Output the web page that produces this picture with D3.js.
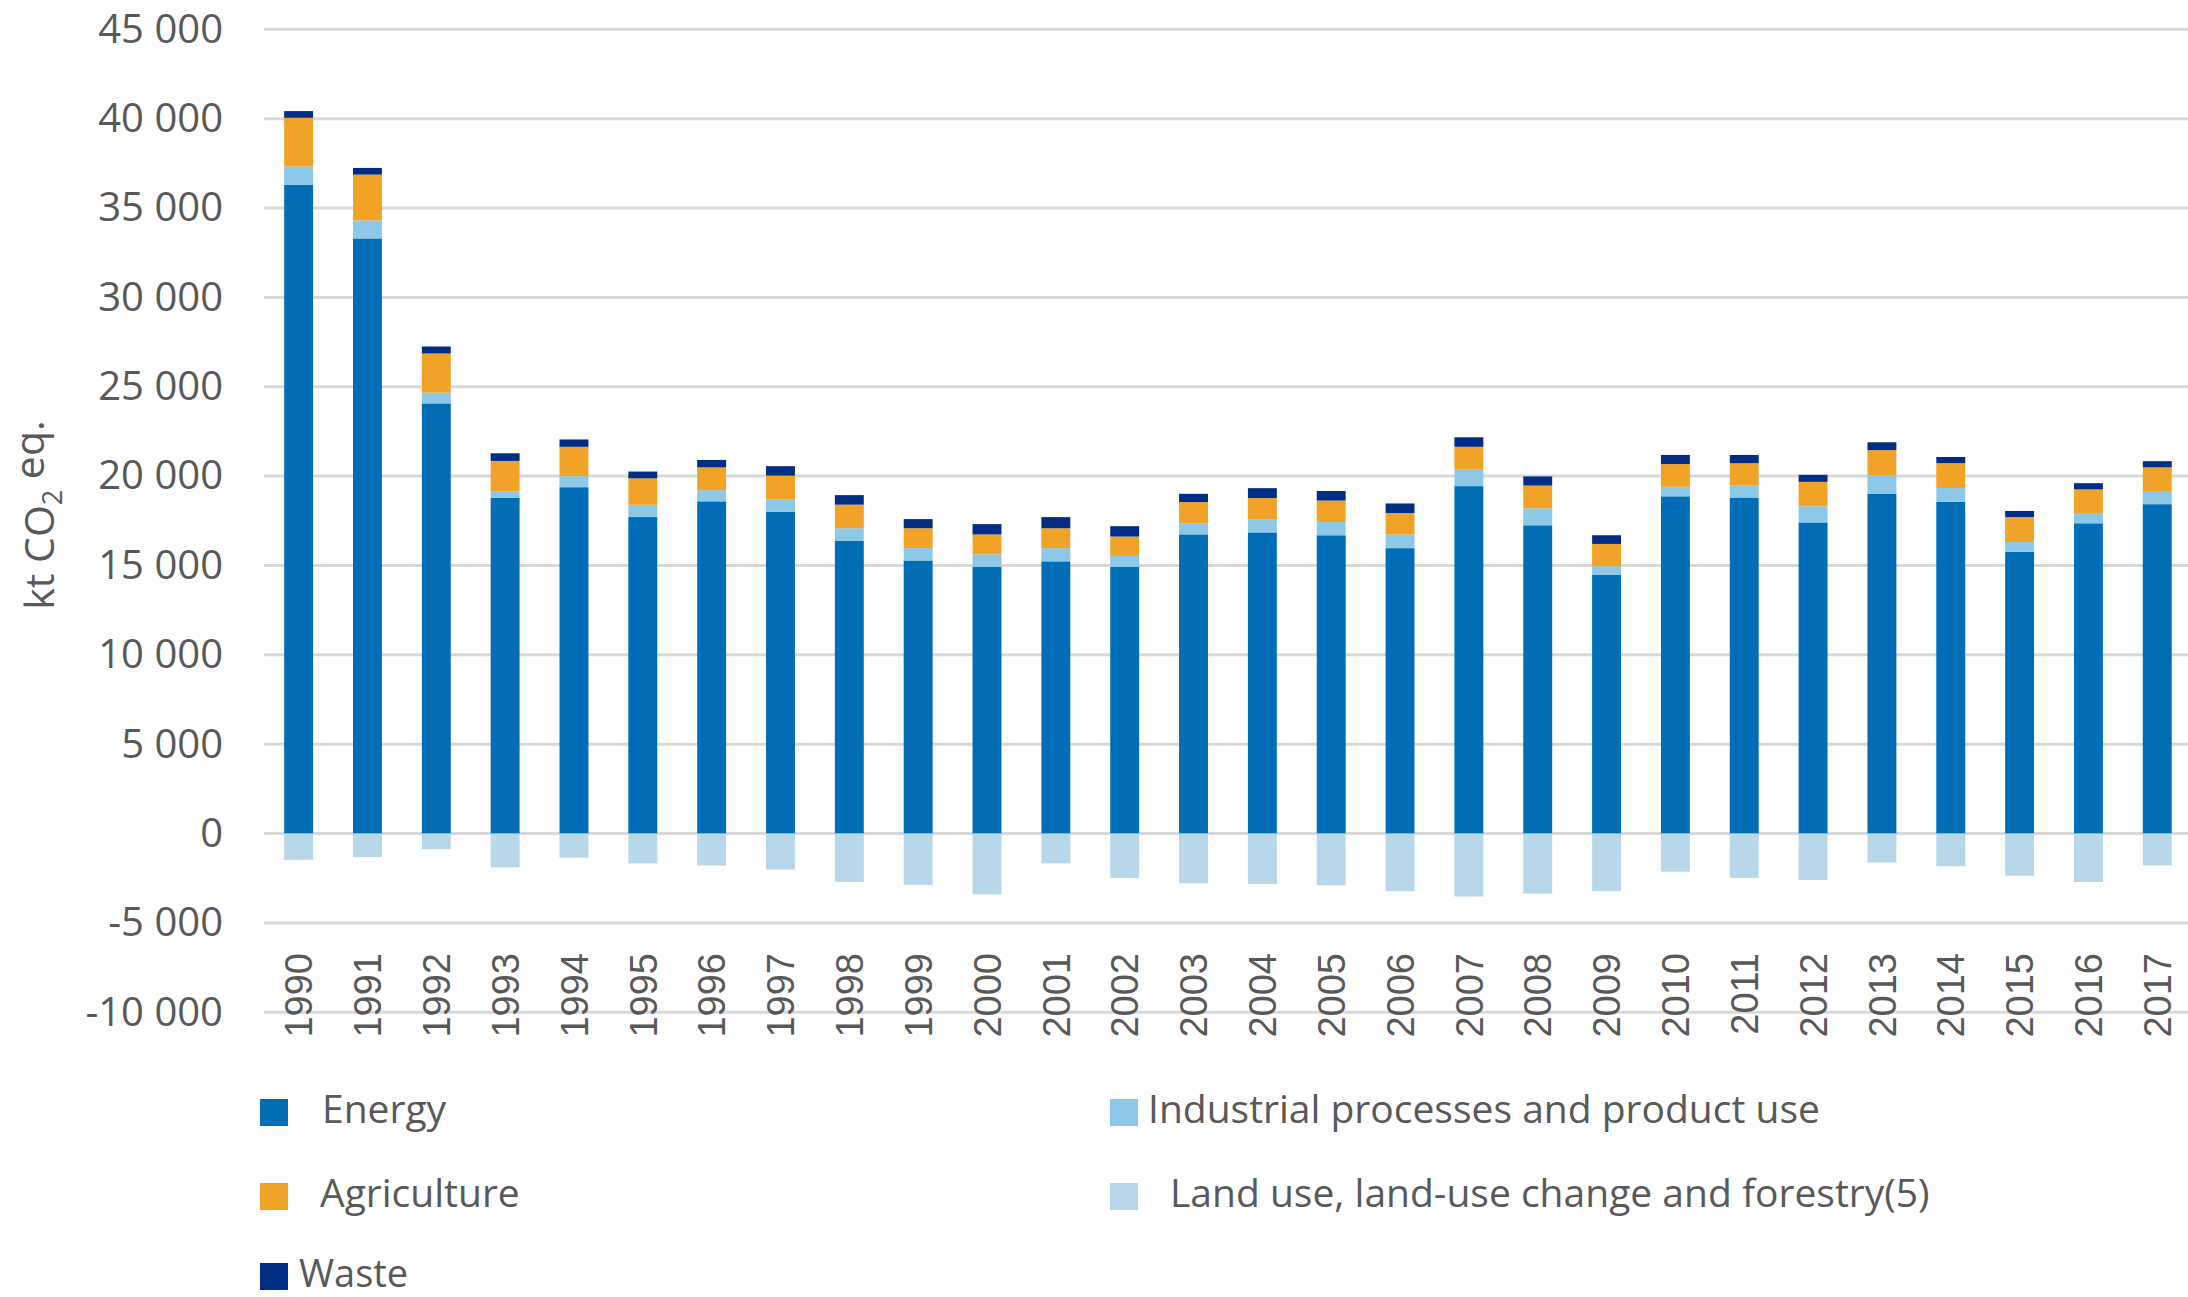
<!DOCTYPE html>
<html>
<head>
<meta charset="utf-8">
<script src="https://cdn.jsdelivr.net/npm/d3@7"></script>
<style>
  html, body { margin: 0; padding: 0; background: #ffffff; }
  svg { display: block; }
</style>
</head>
<body>
<svg id="chart" width="2188" height="1297"></svg>
<script>
// ---------------- data ----------------
const years = ["1990","1991","1992","1993","1994","1995","1996","1997","1998","1999",
               "2000","2001","2002","2003","2004","2005","2006","2007","2008","2009",
               "2010","2011","2012","2013","2014","2015","2016","2017"];

const energy = [36310, 33300, 24070, 18780, 19380, 17710, 18590, 18010, 16390, 15280,
                14930, 15230, 14930, 16740, 16850, 16690, 15970, 19440, 17250, 14470,
                18870, 18800, 17410, 19000, 18570, 15760, 17360, 18430];

const industrial = [1010, 1010, 600, 360, 620, 685, 625, 695, 694, 694,
                    694, 741, 601, 625, 741, 741, 764, 950, 949, 486,
                    532, 672, 903, 1041, 764, 555, 579, 694];

const agriculture = [2730, 2560, 2190, 1710, 1640, 1480, 1273, 1319, 1320, 1111,
                     1111, 1111, 1088, 1181, 1180, 1203, 1204, 1250, 1274, 1250,
                     1273, 1250, 1366, 1412, 1389, 1389, 1319, 1366];

const waste = [374, 373, 393, 427, 411, 380, 417, 533, 532, 510,
               579, 625, 579, 463, 556, 533, 532, 532, 509, 486,
               510, 463, 393, 440, 347, 348, 347, 347];

const lulucf = [-1470, -1310, -870, -1890, -1350, -1670, -1782, -2014, -2708, -2870,
                -3403, -1667, -2477, -2778, -2824, -2894, -3218, -3519, -3356, -3218,
                -2130, -2477, -2593, -1620, -1829, -2361, -2708, -1782];

const seriesKeys = ["energy", "industrial", "agriculture", "waste", "lulucf"];
const seriesLabels = ["Energy", "Industrial processes and product use", "Agriculture",
                      "Waste", "Land use, land-use change and forestry(5)"];
const legendKeys = ["energy", "industrial", "agriculture", "lulucf", "waste"];
const yTicks = [-10000, -5000, 0, 5000, 10000, 15000, 20000, 25000, 30000, 35000, 40000, 45000];

// ---------------- styles ----------------
const colors = {
  energy: "#006EB6",
  industrial: "#8EC8E8",
  agriculture: "#F0A326",
  waste: "#002D86",
  lulucf: "#B8D7E9"
};
const textColor = "#595959";
const gridColor = "#D9D9D9";

// ---------------- build ----------------
const rows = years.map((yr, i) => ({
  year: yr,
  energy: energy[i],
  industrial: industrial[i],
  agriculture: agriculture[i],
  waste: waste[i],
  lulucf: lulucf[i]
}));

const svg = d3.select("#chart");

const x = d3.scaleBand()
  .domain(years)
  .range([264.2, 2191.7])
  .paddingInner(0.58)
  .paddingOuter(0.29);

const y = d3.scaleLinear()
  .domain([-10000, 45000])
  .range([1012.3, 29.3]);

const fmt = d3.formatLocale({decimal: ".", thousands: " ", grouping: [3], currency: ["", ""], minus: "-"}).format(",");

// gridlines
svg.append("g")
  .selectAll("line")
  .data(yTicks)
  .join("line")
  .attr("x1", 264)
  .attr("x2", 2188)
  .attr("y1", d => y(d))
  .attr("y2", d => y(d))
  .attr("stroke", gridColor)
  .attr("stroke-width", 3);

// y axis
const yAxis = svg.append("g")
  .attr("transform", "translate(264,0)")
  .call(d3.axisLeft(y).tickValues(yTicks).tickFormat(fmt).tickSize(0).tickPadding(41));
yAxis.select(".domain").remove();
yAxis.selectAll("text")
  .attr("fill", textColor)
  .style("font-family", "'Open Sans', sans-serif")
  .style("font-size", "40px");

// y axis title
const title = svg.append("text")
  .attr("transform", "translate(54,515) rotate(-90)")
  .attr("text-anchor", "middle")
  .attr("fill", textColor)
  .style("font-family", "'Open Sans', sans-serif")
  .style("font-size", "41px");
title.append("tspan").text("kt CO");
title.append("tspan").attr("dy", "0.28em").style("font-size", "27px").text("2");
title.append("tspan").attr("dy", "-0.42em").text(" eq.");

// stacked bars
const stack = d3.stack()
  .keys(["energy", "industrial", "agriculture", "waste", "lulucf"])
  .offset(d3.stackOffsetDiverging);
const stacked = stack(rows);

svg.append("g")
  .selectAll("g")
  .data(stacked)
  .join("g")
  .attr("fill", d => colors[d.key])
  .selectAll("rect")
  .data(d => d)
  .join("rect")
  .attr("x", d => x(d.data.year))
  .attr("width", x.bandwidth())
  .attr("y", d => y(Math.max(d[0], d[1])))
  .attr("height", d => Math.abs(y(d[0]) - y(d[1])));

// x axis (labels only)
const xAxis = svg.append("g")
  .attr("transform", "translate(0,953)")
  .call(d3.axisBottom(x).tickSize(0));
xAxis.select(".domain").remove();
xAxis.selectAll("text")
  .attr("x", 0)
  .attr("y", 0)
  .attr("dy", "0.36em")
  .attr("transform", "rotate(-90)")
  .attr("text-anchor", "end")
  .attr("fill", textColor)
  .style("font-family", "'Liberation Sans', Arial, sans-serif")
  .style("font-size", "38px");

// legend
const legendLayout = {
  energy:      {sx: 260,  sy: 1099, tx: 322},
  industrial:  {sx: 1110, sy: 1099, tx: 1148},
  agriculture: {sx: 260,  sy: 1183, tx: 320},
  lulucf:      {sx: 1110, sy: 1183, tx: 1170},
  waste:       {sx: 260,  sy: 1263, tx: 299}
};
const labelOf = k => seriesLabels[seriesKeys.indexOf(k)];

const legend = svg.append("g")
  .selectAll("g")
  .data(legendKeys)
  .join("g");
legend.append("rect")
  .attr("x", d => legendLayout[d].sx)
  .attr("y", d => legendLayout[d].sy)
  .attr("width", 28)
  .attr("height", 27)
  .attr("fill", d => colors[d]);
legend.append("text")
  .attr("x", d => legendLayout[d].tx)
  .attr("y", d => legendLayout[d].sy + 24)
  .attr("fill", textColor)
  .style("font-family", "'Open Sans', sans-serif")
  .style("font-size", d => d === "waste" ? "38px" : "39px")
  .text(d => labelOf(d));
</script>
</body>
</html>
